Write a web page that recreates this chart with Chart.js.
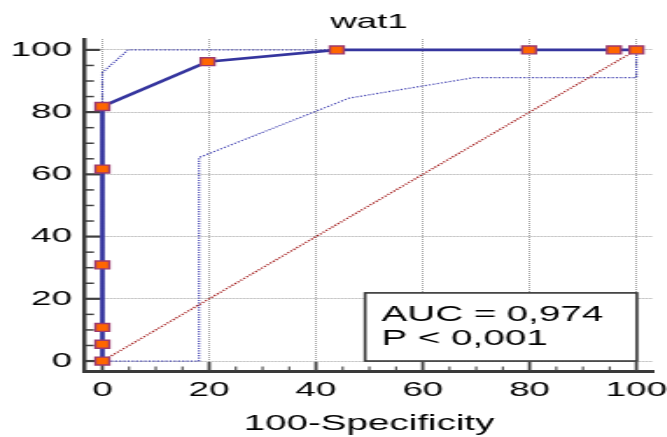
<!DOCTYPE html>
<html>
<head>
<meta charset="utf-8">
<script src="https://cdn.jsdelivr.net/npm/chart.js@4.4.1/dist/chart.umd.min.js"></script>
<style>
  html, body { margin: 0; padding: 0; background: #fff; overflow: hidden; }
  /* the reference is a horizontally stretched plot, so draw narrow and stretch */
  #wrap { width: 381px; height: 437px; transform: scaleX(1.75); transform-origin: 0 0; }
</style>
</head>
<body>
<div id="wrap"><canvas id="roc" width="381" height="437"></canvas></div>
<script>
// ROC curve of wat1
const rocX = [0, 0, 0, 0, 0, 0, 19.7, 43.9, 79.9, 95.8, 100];
const rocY = [0, 5.4, 10.8, 30.9, 61.7, 81.8, 96.2, 100, 100, 100, 100];

// confidence bounds
const upperX = [0, 0, 4.8, 100];
const upperY = [0, 92.7, 100, 100];
const lowerX = [0, 18.1, 18.1, 46.2, 69.6, 100, 100];
const lowerY = [0, 0, 65.4, 84.5, 91.1, 91.1, 100];

// reference line
const diagX = [0, 100];
const diagY = [0, 100];

const xTicks = [0, 20, 40, 60, 80, 100];
const yTicks = [0, 20, 40, 60, 80, 100];
const smallTicks = [0, 5, 10, 15, 20, 25, 30, 35, 40, 45, 50, 55, 60, 65, 70, 75, 80, 85, 90, 95, 100];

const aucText = 'AUC = 0,974';
const pText = 'P < 0,001';

const FONT = '"Liberation Sans", Arial, sans-serif';

function pts(xs, ys) {
  return xs.map((x, i) => ({ x: x, y: ys[i] }));
}

// inward axis ticks
const innerTicks = {
  id: 'innerTicks',
  beforeDatasetsDraw(chart) {
    const ctx = chart.ctx;
    const xs = chart.scales.x, ys = chart.scales.y;
    const left = chart.chartArea.left, bottom = chart.chartArea.bottom;
    ctx.save();
    ctx.strokeStyle = '#404040';
    smallTicks.forEach(v => {
      const major = yTicks.includes(v);
      const py = ys.getPixelForValue(v);
      ctx.lineWidth = major ? 2.2 : 1.5;
      ctx.beginPath();
      ctx.moveTo(left, py);
      ctx.lineTo(left + (major ? 8.6 : 5.1), py);
      ctx.stroke();
      const px = xs.getPixelForValue(v);
      ctx.lineWidth = major ? 1.8 : 1.1;
      ctx.beginPath();
      ctx.moveTo(px, bottom);
      ctx.lineTo(px, bottom - (major ? 9 : 4.5));
      ctx.stroke();
    });
    ctx.restore();
  }
};

// AUC box in the lower right
const aucBox = {
  id: 'aucBox',
  afterDatasetsDraw(chart) {
    const ctx = chart.ctx;
    const xs = chart.scales.x, ys = chart.scales.y;
    const x0 = xs.getPixelForValue(49.2), x1 = xs.getPixelForValue(100.1);
    const y0 = ys.getPixelForValue(21.9), y1 = ys.getPixelForValue(0);
    ctx.save();
    ctx.fillStyle = '#fff';
    ctx.fillRect(x0, y0, x1 - x0, y1 - y0);
    ctx.strokeStyle = '#333';
    ctx.lineWidth = 1.6;
    ctx.strokeRect(x0, y0, x1 - x0, y1 - y0);
    ctx.fillStyle = '#000';
    ctx.font = '22px ' + FONT;
    ctx.textBaseline = 'alphabetic';
    ctx.fillText(aucText, xs.getPixelForValue(52.3), ys.getPixelForValue(12.9));
    ctx.fillText(pText, xs.getPixelForValue(52.3), ys.getPixelForValue(5.2));
    ctx.restore();
  }
};

new Chart(document.getElementById('roc'), {
  type: 'line',
  data: {
    datasets: [
      {
        label: 'ROC',
        data: pts(rocX, rocY),
        borderColor: '#35359e',
        borderWidth: 2.7,
        pointStyle: 'rect',
        pointRadius: 5.6,
        pointBackgroundColor: '#ff6600',
        pointBorderColor: '#9c3a6e',
        pointBorderWidth: 1.4,
        order: 0
      },
      {
        label: 'upper',
        data: pts(upperX, upperY),
        borderColor: '#4040b0',
        borderWidth: 1.2,
        borderDash: [1.2, 1.2],
        pointRadius: 0,
        order: 2
      },
      {
        label: 'lower',
        data: pts(lowerX, lowerY),
        borderColor: '#4040b0',
        borderWidth: 1.2,
        borderDash: [1.2, 1.2],
        pointRadius: 0,
        order: 2
      },
      {
        label: 'diag',
        data: pts(diagX, diagY),
        borderColor: '#a31f1f',
        borderWidth: 1.4,
        borderDash: [1.2, 1.2],
        pointRadius: 0,
        order: 1
      }
    ]
  },
  options: {
    responsive: false,
    animation: false,
    devicePixelRatio: 1,
    layout: { padding: { left: 0, right: 7.9, top: 0, bottom: 0 } },
    elements: { line: { tension: 0 } },
    plugins: {
      legend: { display: false },
      tooltip: { enabled: false },
      title: {
        display: true,
        text: 'wat1',
        fullSize: false,
        color: '#000',
        font: { family: FONT, size: 21, weight: 'normal' },
        padding: { top: 9.6, bottom: 4.2 }
      }
    },
    scales: {
      x: {
        type: 'linear',
        min: -3.24,
        max: 103.1,
        afterBuildTicks: s => { s.ticks = xTicks.map(v => ({ value: v })); },
        afterFit: s => { s.height = 66; s.paddingLeft = 0; s.paddingRight = 0; },
        ticks: { color: '#000', font: { family: FONT, size: 21 }, padding: 7, maxRotation: 0 },
        grid: { color: '#a0a0a0', lineWidth: 1, drawTicks: false },
        border: { display: true, color: '#3a3a3a', width: 3, dash: [1, 1] },
        title: {
          display: true,
          text: '100-Specificity',
          color: '#000',
          font: { family: FONT, size: 22 },
          padding: { top: 0, bottom: 0 }
        }
      },
      y: {
        type: 'linear',
        min: -3.2,
        max: 103.5,
        afterBuildTicks: s => { s.ticks = yTicks.map(v => ({ value: v })); },
        afterFit: s => { s.width = 48.6; s.paddingTop = 0; s.paddingBottom = 0; },
        ticks: { color: '#000', font: { family: FONT, size: 21 }, padding: 7.5 },
        grid: { color: '#a0a0a0', lineWidth: 1, drawTicks: false },
        border: { display: true, color: '#3a3a3a', width: 2.4, dash: [1, 1] }
      }
    }
  },
  plugins: [innerTicks, aucBox]
});
</script>
</body>
</html>
